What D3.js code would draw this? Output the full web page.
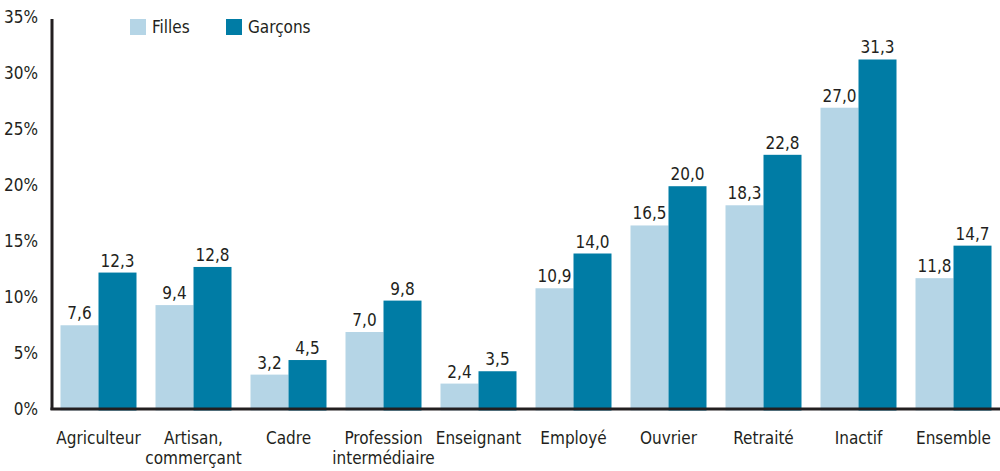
<!DOCTYPE html>
<meta charset="utf-8"/>
<style>
  body { margin: 0; background: #fff; }
  text { font-family: "Liberation Sans Narrow", "Arial Narrow", "DejaVu Sans Condensed", sans-serif; fill: #231f20; }
</style>
<svg width="1000" height="471"></svg>
<script src="https://cdnjs.cloudflare.com/ajax/libs/d3/7.8.5/d3.min.js"></script>
<script>

// data
var categories = [["Agriculteur"], ["Artisan,", "commerçant"], ["Cadre"], ["Profession", "intermédiaire"],
                  ["Enseignant"], ["Employé"], ["Ouvrier"], ["Retraité"], ["Inactif"], ["Ensemble"]];
var filles  = [7.6, 9.4, 3.2, 7.0, 2.4, 10.9, 16.5, 18.3, 27.0, 11.8];
var garcons = [12.3, 12.8, 4.5, 9.8, 3.5, 14.0, 20.0, 22.8, 31.3, 14.7];
var series  = ["Filles", "Garçons"];
var yTicks  = [0, 5, 10, 15, 20, 25, 30, 35];

var colours = ["#b5d5e6", "#007ca5"];

var svg = d3.select("svg");

var x = d3.scaleBand()
    .domain(d3.range(categories.length))
    .range([51, 1001])
    .paddingInner(0.2)
    .paddingOuter(0.1);

var xs = d3.scaleBand()
    .domain([0, 1])
    .range([0, x.bandwidth()]);

var y = d3.scaleLinear()
    .domain([0, 35])
    .range([410.5, 18]);

var fmt = function(v) { return v.toFixed(1).replace(".", ","); };

// y tick labels
svg.selectAll(".ytick")
  .data(yTicks)
  .enter().append("text")
    .attr("x", 38)
    .attr("y", function(d) { return y(d) - 1.5; })
    .attr("dy", "0.36em")
    .attr("text-anchor", "end")
    .style("font-size", "17px")
    .text(function(d) { return d + "%"; });

// bars
var data = [filles, garcons];
data.forEach(function(vals, s) {
  svg.selectAll(".bar" + s)
    .data(vals)
    .enter().append("rect")
      .attr("x", function(d, i) { return x(i) + xs(s); })
      .attr("y", function(d) { return y(d); })
      .attr("width", xs.bandwidth())
      .attr("height", function(d) { return y(0) - y(d); })
      .attr("fill", colours[s]);

  svg.selectAll(".val" + s)
    .data(vals)
    .enter().append("text")
      .attr("x", function(d, i) { return x(i) + xs(s) + xs.bandwidth() / 2; })
      .attr("y", function(d) { return y(d) - 6; })
      .attr("text-anchor", "middle")
      .style("font-size", "17px")
      .text(fmt);
});

// axes lines
svg.append("line")
    .attr("x1", 52).attr("x2", 52)
    .attr("y1", 19).attr("y2", 410)
    .attr("stroke", "#231f20").attr("stroke-width", 3);
svg.append("line")
    .attr("x1", 50.5).attr("x2", 1000)
    .attr("y1", 409).attr("y2", 409)
    .attr("stroke", "#231f20").attr("stroke-width", 3);

// category labels
var cat = svg.selectAll(".cat")
  .data(categories)
  .enter().append("text")
    .attr("text-anchor", "middle")
    .style("font-size", "17px")
    .attr("transform", function(d, i) { return "translate(" + (x(i) + x.bandwidth() / 2) + ",444)"; });
cat.selectAll("tspan")
  .data(function(d) { return d; })
  .enter().append("tspan")
    .attr("x", 0)
    .attr("dy", function(d, j) { return j ? "1.2em" : 0; })
    .text(function(d) { return d; });

// legend
var legendX = [130, 226];
series.forEach(function(name, s) {
  svg.append("rect")
      .attr("x", legendX[s]).attr("y", 19)
      .attr("width", 16).attr("height", 16)
      .attr("fill", colours[s]);
  svg.append("text")
      .attr("x", legendX[s] + 22).attr("y", 27)
      .attr("dy", "0.36em")
      .style("font-size", "17px")
      .text(name);
});

</script>
